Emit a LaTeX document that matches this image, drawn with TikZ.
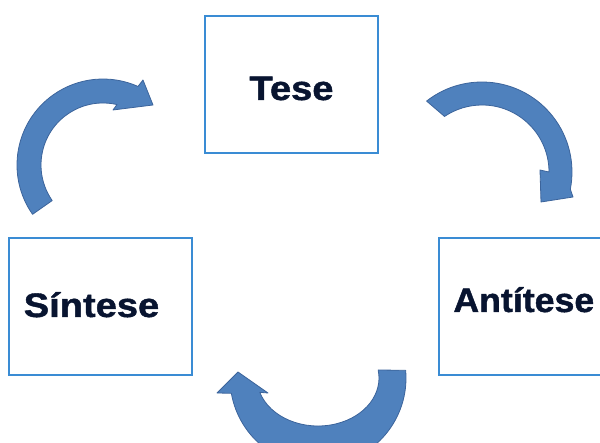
\documentclass[tikz,border=0pt]{standalone}
\usepackage{fontspec}
\setmainfont{Liberation Sans}
\newfontfamily\lblfont{Liberation Sans Bold}[FakeBold=1.2]
\usetikzlibrary{positioning,calc}
\definecolor{boxblue}{RGB}{58,140,212}
\definecolor{arrblue}{RGB}{79,129,189}
\definecolor{arredge}{RGB}{60,100,155}
\definecolor{navy}{RGB}{8,20,48}
\begin{document}
\begin{tikzpicture}[
    x=1pt, y=-1pt,
    box/.style={rectangle,draw=boxblue,line width=1.6pt,inner sep=0pt,
        minimum height=137pt},
    lbl/.style={font=\fontsize{34}{40}\lblfont,text=navy,
        inner sep=0pt,anchor=base},
    arw/.style={fill=arrblue,draw=arredge,line width=0.8pt,line join=round},
    ]
    \useasboundingbox (0,0) rectangle (600,443);
    \clip (0,0) rectangle (600,443);

    %boxes
    \node[box,minimum width=173pt] (tese) at (291.5,84.5) {};
    \node[box,minimum width=183pt] (sintese) at (100.5,306.5) {};
    \node[box,minimum width=176pt] (antitese) at (527,306.5) {};

    %labels
    \node[lbl] (ltese) at ([yshift=-15.5pt]tese.center) {\scalebox{1.12}[1]{Tese}};
    \node[lbl] (lsintese) at ([xshift=-9pt,yshift=-10.5pt]sintese.center) {\scalebox{1.12}[1]{Síntese}};
    \node[lbl,anchor=base west] (lantitese) at ([xshift=15pt,yshift=-5.5pt]antitese.west) {\scalebox{1.05}[1]{Antítese}};

    %centres of the arrows
    \coordinate (cA) at (103,165);
    \coordinate (cB) at (482,172);
    \coordinate (cC) at (318,378);

    %arrow Sintese -> Tese
    \filldraw[arw] ($(cA)+(145:86)$) arc[start angle=145,end angle=294,radius=86]
        -- (143,80) -- (153,105) -- (113,110)
        -- ($(cA)+(283:62)$) arc[start angle=283,end angle=145,radius=62] -- cycle;

    %arrow Tese -> Antitese
    \filldraw[arw] ($(cB)+(232:90)$) arc[start angle=232,end angle=371,radius=90]
        -- (573,197) -- (541,202) -- (540,170)
        -- ($(cB)+(0:67)$) arc[start angle=360,end angle=236,radius=67] -- cycle;

    %arrow Antitese -> Sintese
    \filldraw[arw] ($(cC)+(-5:88)$) arc[start angle=-5,end angle=170,radius=88]
        -- (217,393) -- (238,372) -- (268,393)
        -- ($(cC)+(162.6:61 and 48)$) arc[start angle=162.6,end angle=-9.6,x radius=61,y radius=48] -- cycle;

\end{tikzpicture}
\end{document}
